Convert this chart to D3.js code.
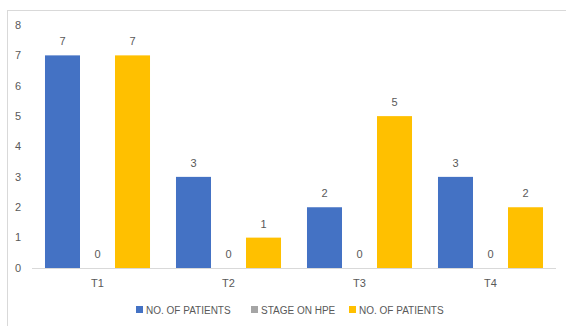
<!DOCTYPE html>
<html>
<head>
  <meta charset="UTF-8">
  <title>Stage chart</title>
  <script src="https://d3js.org/d3.v7.min.js"></script>
  <style>
    body { margin: 0; background: #fff; }
    text { font-family: "Liberation Sans", Arial, sans-serif; fill: #595959; }
  </style>
</head>
<body>
  <div class="graph"></div>
  <script>
    /// data
    var categories = ["T1", "T2", "T3", "T4"];
    var series = ["NO. OF PATIENTS", "STAGE ON HPE", "NO. OF PATIENTS "];
    var patientsA = [7, 3, 2, 3];
    var stageHpe = [0, 0, 0, 0];
    var patientsB = [7, 1, 5, 2];
    var yTicks = [0, 1, 2, 3, 4, 5, 6, 7, 8];
    var colors = ["#4472C4", "#A5A5A5", "#FFC000"];

    var values = [patientsA, stageHpe, patientsB];

    var width = 566, height = 326;
    var svg = d3.select(".graph").append("svg")
      .attr("width", width)
      .attr("height", height);

    // chart border (runs off the right and bottom edges)
    svg.append("rect")
      .attr("x", 7.5).attr("y", 10.5)
      .attr("width", 570).attr("height", 330)
      .attr("fill", "none")
      .attr("stroke", "#d9d9d9");

    var x0 = d3.scaleBand().domain(categories).range([32, 556]);
    var x1 = d3.scaleBand().domain(d3.range(series.length))
      .range([0, x0.bandwidth()])
      .paddingOuter(0.371);
    var y = d3.scaleLinear().domain([0, 8]).range([268, 25]);

    // y tick labels
    svg.append("g").selectAll("text")
      .data(yTicks)
      .enter().append("text")
        .attr("x", 21)
        .attr("y", function(d) { return y(d); })
        .attr("dy", "0.35em")
        .attr("text-anchor", "end")
        .style("font-size", "11px")
        .text(function(d) { return d; });

    // bars
    var groups = svg.append("g").selectAll("g")
      .data(categories)
      .enter().append("g")
        .attr("transform", function(d) { return "translate(" + x0(d) + ",0)"; });

    groups.selectAll("rect")
      .data(function(c, i) { return values.map(function(v, s) { return {s: s, v: v[i]}; }); })
      .enter().append("rect")
        .attr("x", function(d) { return x1(d.s); })
        .attr("y", function(d) { return y(d.v); })
        .attr("width", x1.bandwidth())
        .attr("height", function(d) { return y(0) - y(d.v); })
        .attr("fill", function(d) { return colors[d.s]; });

    groups.selectAll("text")
      .data(function(c, i) { return values.map(function(v, s) { return {s: s, v: v[i]}; }); })
      .enter().append("text")
        .attr("x", function(d) { return x1(d.s) + x1.bandwidth() / 2; })
        .attr("y", function(d) { return y(d.v) - 10; })
        .attr("text-anchor", "middle")
        .style("font-size", "11px")
        .text(function(d) { return d.v; });

    // baseline
    svg.append("line")
      .attr("x1", 32).attr("x2", 556)
      .attr("y1", y(0) + 0.5).attr("y2", y(0) + 0.5)
      .attr("stroke", "#d9d9d9");

    // category labels
    svg.append("g").selectAll("text")
      .data(categories)
      .enter().append("text")
        .attr("x", function(d) { return x0(d) + x0.bandwidth() / 2; })
        .attr("y", 287)
        .attr("text-anchor", "middle")
        .style("font-size", "11px")
        .text(function(d) { return d; });

    // legend
    var legendX = [136, 251, 349];
    var legend = svg.append("g").selectAll("g")
      .data(series)
      .enter().append("g")
        .attr("transform", function(d, i) { return "translate(" + legendX[i] + ",310)"; });
    legend.append("rect")
      .attr("x", 0).attr("y", -4)
      .attr("width", 7).attr("height", 7)
      .attr("fill", function(d, i) { return colors[i]; });
    legend.append("text")
      .attr("x", 10).attr("y", 0)
      .attr("dy", "0.35em")
      .style("font-size", "10px")
      .text(function(d) { return d.trim(); });
  </script>
</body>
</html>
